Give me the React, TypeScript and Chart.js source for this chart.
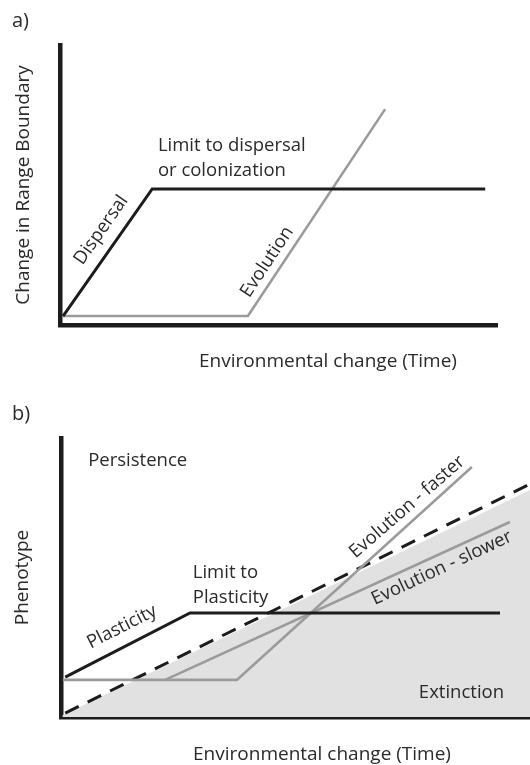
import React, { useEffect, useRef } from "react";
import { Chart, registerables } from "chart.js";

Chart.register(...registerables);

const FONT = '"Open Sans", sans-serif';
const TEXT = "#2a2a2a";
const BLACK = "#1c1c1c";
const GREY = "#9b9b9b";
const SHADE = "#e1e1e1";

// ---- Panel a data (x: environmental change, y: change in range boundary) ----
const dispersalA = [
  { x: 0.7, y: 3.2 },
  { x: 21.1, y: 48.6 },
  { x: 97.3, y: 48.6 },
];
const evolutionA = [
  { x: 0.7, y: 3.2 },
  { x: 43.0, y: 3.2 },
  { x: 74.4, y: 77.1 },
];

// ---- Panel b data (x: environmental change, y: phenotype) ----
const plasticityB = [
  { x: 0.9, y: 14.3 },
  { x: 27.5, y: 37.3 },
  { x: 93.6, y: 37.3 },
];
const evoFasterB = [
  { x: 0.4, y: 13.3 },
  { x: 37.5, y: 13.3 },
  { x: 87.6, y: 89.6 },
];
const evoSlowerB = [
  { x: 22.2, y: 13.3 },
  { x: 95.7, y: 69.9 },
];
const thresholdB = [
  { x: 0.9, y: 1.4 },
  { x: 100, y: 83.5 },
];
const extinctionZoneB = [
  { x: 0.3, y: 0.6 },
  { x: 100, y: 81.4 },
];

// ---- Labels ----
const yTitleA = "Change in Range Boundary";
const yTitleB = "Phenotype";
const xTitle = "Environmental change (Time)";

type Label = { text: string; x: number; y: number; rot: number; align: CanvasTextAlign };

const labelsA: Label[] = [
  { text: "Limit to dispersal", x: 22.4, y: 63.9, rot: 0, align: "left" },
  { text: "or colonization", x: 22.4, y: 55.0, rot: 0, align: "left" },
  { text: "Dispersal", x: 9.4, y: 33.9, rot: -55, align: "center" },
  { text: "Evolution", x: 47.4, y: 22.5, rot: -56.5, align: "center" },
];
const labelsB: Label[] = [
  { text: "Persistence", x: 5.8, y: 91.8, rot: 0, align: "left" },
  { text: "Limit to", x: 28.1, y: 51.6, rot: 0, align: "left" },
  { text: "Plasticity", x: 28.1, y: 42.7, rot: 0, align: "left" },
  { text: "Plasticity", x: 13.0, y: 32.3, rot: -27, align: "center" },
  { text: "Evolution - faster", x: 73.8, y: 75.3, rot: -41, align: "center" },
  { text: "Evolution - slower", x: 81.2, y: 53.4, rot: -25, align: "center" },
  { text: "Extinction", x: 76.3, y: 8.6, rot: 0, align: "left" },
];

const LABEL_SIZE = 18.5;
const TITLE_SIZE = 19;

function textPlugin(labels: Label[], panel: string, panelPos: [number, number], xTitlePos: [number, number]) {
  return {
    id: "texts" + panel,
    afterDraw(chart: any) {
      const ctx = chart.ctx;
      const xs = chart.scales.x;
      const ys = chart.scales.y;
      ctx.save();
      ctx.fillStyle = TEXT;
      ctx.textBaseline = "middle";
      ctx.font = `${LABEL_SIZE}px ${FONT}`;
      for (const l of labels) {
        const px = xs.getPixelForValue(l.x);
        const py = ys.getPixelForValue(l.y);
        ctx.save();
        ctx.translate(px, py);
        ctx.rotate((l.rot * Math.PI) / 180);
        ctx.textAlign = l.align;
        ctx.fillText(l.text, 0, 0);
        ctx.restore();
      }
      ctx.font = `${TITLE_SIZE}px ${FONT}`;
      ctx.textAlign = "center";
      ctx.fillText(xTitle, xTitlePos[0], xTitlePos[1]);
      ctx.textAlign = "left";
      ctx.font = `20px ${FONT}`;
      ctx.fillText(panel + ")", panelPos[0], panelPos[1]);
      ctx.restore();
    },
  };
}

function lineDs(data: any[], color: string, width: number, extra: any = {}) {
  return {
    data,
    showLine: true,
    borderColor: color,
    backgroundColor: color,
    borderWidth: width,
    pointRadius: 0,
    tension: 0,
    fill: false,
    borderJoinStyle: "miter",
    ...extra,
  };
}

function makeScales(yTitle: string, yWidth: number, xHeight: number, titlePad: number) {
  return {
    x: {
      type: "linear",
      min: 0,
      max: 100,
      grid: { display: false },
      ticks: { display: false },
      border: { display: true, width: 4.5, color: BLACK },
      afterFit: (s: any) => {
        s.height = xHeight;
      },
    },
    y: {
      type: "linear",
      min: 0,
      max: 100,
      grid: { display: false },
      ticks: { display: false },
      border: { display: true, width: 4.5, color: BLACK },
      title: {
        display: true,
        text: yTitle,
        color: TEXT,
        font: { family: FONT, size: TITLE_SIZE },
        padding: { top: titlePad, bottom: 0 },
      },
      afterFit: (s: any) => {
        s.width = yWidth;
      },
    },
  };
}

export default function App() {
  const refA = useRef<HTMLCanvasElement>(null);
  const refB = useRef<HTMLCanvasElement>(null);

  useEffect(() => {
    const chartA = new Chart(refA.current as HTMLCanvasElement, {
      type: "scatter",
      data: {
        datasets: [
          lineDs(dispersalA, BLACK, 3),
          lineDs(evolutionA, GREY, 2.6),
        ] as any,
      },
      options: {
        animation: false,
        responsive: false,
        maintainAspectRatio: false,
        events: [],
        layout: { padding: { left: 0, right: 33, top: 45, bottom: 0 } },
        plugins: { legend: { display: false }, tooltip: { enabled: false } },
        scales: makeScales(yTitleA, 60, 55, 12.5) as any,
      },
      plugins: [textPlugin(labelsA, "a", [12, 21], [328, 362])],
    });

    const chartB = new Chart(refB.current as HTMLCanvasElement, {
      type: "scatter",
      data: {
        datasets: [
          lineDs(plasticityB, BLACK, 3, { order: 1 }),
          lineDs(evoFasterB, GREY, 2.6, { order: 2 }),
          lineDs(evoSlowerB, GREY, 2.6, { order: 2 }),
          lineDs(thresholdB, BLACK, 3, { order: 3, borderDash: [15, 10] }),
          lineDs(extinctionZoneB, "rgba(0,0,0,0)", 0, {
            order: 10,
            fill: "origin",
            backgroundColor: SHADE,
          }),
        ] as any,
      },
      options: {
        animation: false,
        responsive: false,
        maintainAspectRatio: false,
        events: [],
        layout: { padding: { left: 0, right: 0, top: 58, bottom: 0 } },
        plugins: { legend: { display: false }, tooltip: { enabled: false }, filler: { propagate: false } } as any,
        scales: makeScales(yTitleB, 61, 48, 11.5) as any,
      },
      plugins: [textPlugin(labelsB, "b", [12, 34], [322, 375])],
    });

    return () => {
      chartA.destroy();
      chartB.destroy();
    };
  }, []);

  return (
    <div style={{ position: "fixed", left: 0, top: 0, width: 530, height: 765, background: "#fff" }}>
      <canvas ref={refA} width={530} height={380} style={{ position: "absolute", left: 0, top: 0 }} />
      <canvas ref={refB} width={530} height={385} style={{ position: "absolute", left: 0, top: 380 }} />
    </div>
  );
}
